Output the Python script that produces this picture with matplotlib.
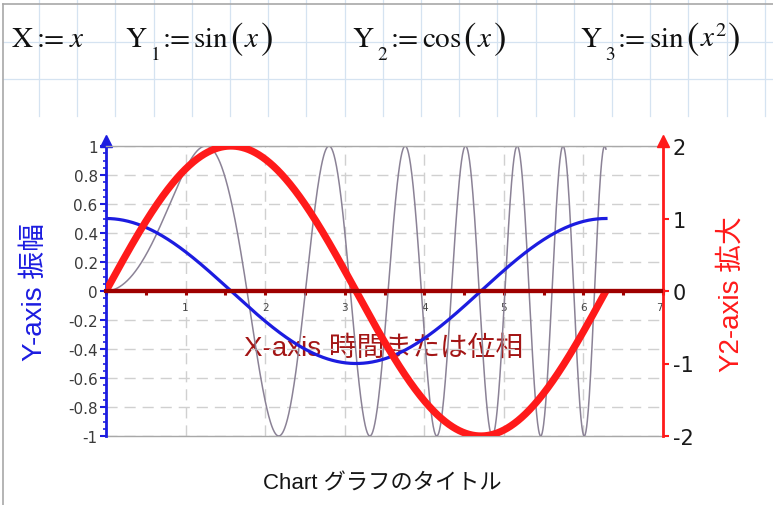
import numpy as np
import matplotlib
matplotlib.use("Agg")
import matplotlib.pyplot as plt
from matplotlib.ticker import FixedLocator, MultipleLocator, FuncFormatter

plt.rcParams['mathtext.fontset'] = 'stix'
plt.rcParams['axes.unicode_minus'] = False
cjk = ['Liberation Sans', 'Noto Sans CJK JP']

# worksheet definitions: X := x, Y1 := sin(x), Y2 := cos(x), Y3 := sin(x^2)
x = np.linspace(0, 2 * np.pi, 1500)
y_sin = np.sin(x)
y_cos = np.cos(x)
y_sin_sq = np.sin(x ** 2)

cos_amp = 0.5   # blue trace on the left axis
sin_amp = 2.0   # red trace on the right axis

x_ticks = [1, 2, 3, 4, 5, 6, 7]
y_ticks = [-1, -0.8, -0.6, -0.4, -0.2, 0, 0.2, 0.4, 0.6, 0.8, 1]
y2_ticks = [-2, -1, 0, 1, 2]

BLUE = '#1c1ce0'
RED = '#ff1a1a'
DARKRED = '#9e0000'
GREY = '#a8a8a8'
PAPER = '#d5e3f1'
INK = '#111111'

W, H = 773, 506
fig = plt.figure(figsize=(W / 100, H / 100), dpi=100)
renderer = fig.canvas.get_renderer()

# worksheet background (pixel coordinates)
bg = fig.add_axes([0, 0, 1, 1])
bg.set_xlim(0, W)
bg.set_ylim(H, 0)
bg.axis('off')
for gx in np.arange(39, W, 38.2):
    bg.plot([gx, gx], [0, 117], color=PAPER, lw=0.9)
for gy in [43, 80]:
    bg.plot([3, W], [gy, gy], color=PAPER, lw=0.9)
bg.plot([3, W], [5, 5], color=GREY, lw=1.2)
bg.plot([3, 3], [5, H], color=GREY, lw=1.2)


def write_row(x0, base, pieces):
    """Lay out text pieces left to right on a common baseline."""
    xpos = x0
    for s, size, dy, gap in pieces:
        kw = dict(fontsize=size, va='baseline', ha='left', color=INK)
        if not s.startswith('$'):
            kw['family'] = 'STIXGeneral'
        t = bg.text(xpos, base + dy, s, **kw)
        xpos += t.get_window_extent(renderer).width + gap


def definition(x0, idx, func, arg):
    write_row(x0, 47, [
        (r'$\mathrm{Y}$', 21, 0, 2),
        ('$' + idx + '$', 14, 13, 3),
        (':=', 21, 0, 3),
        (r'$\mathrm{' + func + '}$', 21, 0, 2),
        ('(', 27, 2, 1),
        ('$' + arg + '$', 21, 0, 1),
        (')', 27, 2, 0),
    ])


# definitions row
write_row(11, 47, [(r'$\mathrm{X}$', 21, 0, 3), (':=', 21, 0, 4), ('$x$', 21, 0, 0)])
definition(125, '1', 'sin', 'x')
definition(352, '2', 'cos', 'x')
definition(580, '3', 'sin', 'x^{2}')

# axis titles and chart title
bg.text(35, 292, 'Y-axis 振幅', rotation=90, color=BLUE, fontsize=20,
        family=cjk, ha='center', va='center')
bg.text(732, 294, 'Y2-axis 拡大', rotation=90, color=RED, fontsize=20,
        family=cjk, ha='center', va='center')
bg.text(384, 349, 'X-axis 時間または位相', color='#a31515', fontsize=20,
        family=cjk, ha='center', va='center')
bg.text(382, 484, 'Chart グラフのタイトル', color='#151515', fontsize=16,
        family=cjk, ha='center', va='center')

# main plot
left, right, top, bottom = 106, 663, 147, 437
ax = fig.add_axes([left / W, (H - bottom) / H, (right - left) / W, (bottom - top) / H])
ax.set_facecolor('none')
ax.set_xlim(0, 7)
ax.set_ylim(-1, 1)

ax.plot(x, y_sin_sq, color='#8b8296', lw=1.1, zorder=2)
ax.plot(x, cos_amp * y_cos, color=BLUE, lw=2.3, zorder=3)

ax.spines['right'].set_visible(False)
ax.spines['top'].set_color(GREY)
ax.spines['top'].set_linewidth(1.0)
ax.spines['left'].set_color(BLUE)
ax.spines['left'].set_linewidth(2.0)
ax.spines['bottom'].set_position(('data', 0))
ax.spines['bottom'].set_color(DARKRED)
ax.spines['bottom'].set_linewidth(3.0)
ax.axhline(-1, color=GREY, lw=1.0, clip_on=False, zorder=1)

ax.xaxis.set_major_locator(FixedLocator(x_ticks))
ax.xaxis.set_minor_locator(MultipleLocator(0.5))
ax.tick_params(axis='x', which='both', direction='out', length=3, width=2.2,
               color=DARKRED, labelsize=7.5, labelcolor='#454545', pad=5)
# keep the last label clear of the right-hand axis line
ax.xaxis.get_major_ticks()[-1].label1.set_horizontalalignment('right')

ax.yaxis.set_major_locator(FixedLocator(y_ticks))
ax.yaxis.set_minor_locator(MultipleLocator(0.05))
ax.yaxis.set_major_formatter(FuncFormatter(lambda v, p: f"{round(v, 2):g}"))
ax.tick_params(axis='y', which='major', direction='out', length=4, width=1.5,
               color=BLUE, labelsize=11, labelcolor='#3a3a3a', pad=2)
ax.tick_params(axis='y', which='minor', direction='out', length=2.5, width=1.2,
               color=BLUE)

ax.grid(True, which='major', color='#d0d0d0', lw=1.0, linestyle=(0, (8, 5)))
ax.set_axisbelow(True)

ax.plot([0], [1 + 5 / (bottom - top)], marker='^', ms=8, color=BLUE,
        transform=ax.transAxes, clip_on=False)

# secondary axis for the red trace
ax2 = ax.twinx()
ax2.set_ylim(-2, 2)
ax2.plot(x, sin_amp * y_sin, color=RED, lw=5.2, solid_capstyle='butt', zorder=3)
ax2.axhline(0, color=DARKRED, lw=3.0, zorder=4)
for side in ['left', 'top', 'bottom']:
    ax2.spines[side].set_visible(False)
ax2.spines['right'].set_color(RED)
ax2.spines['right'].set_linewidth(2.0)
ax2.yaxis.set_major_locator(FixedLocator(y2_ticks))
ax2.yaxis.set_major_formatter(FuncFormatter(lambda v, p: f"{v:g}"))
ax2.tick_params(axis='y', which='major', direction='out', length=4, width=1.5,
                color=RED, labelsize=15, labelcolor='#1a1a1a', pad=3)
ax2.plot([1], [1 + 5 / (bottom - top)], marker='^', ms=8, color=RED,
         transform=ax2.transAxes, clip_on=False)

fig.savefig('out.png', dpi=100)
